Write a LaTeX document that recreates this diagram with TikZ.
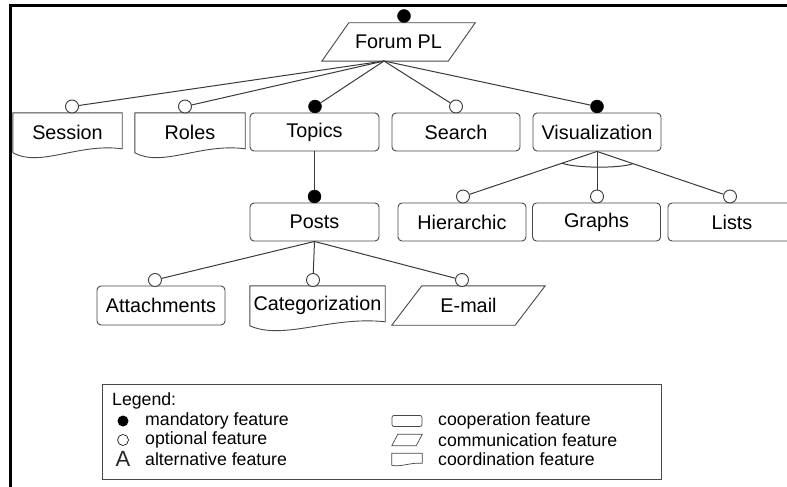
\documentclass[tikz,border=0pt]{standalone}
\usepackage{fontspec}
\setmainfont{Liberation Sans}
\usetikzlibrary{calc}
\definecolor{linecol}{HTML}{3A3A3A}
\definecolor{boxcol}{HTML}{484848}
\newcommand\coordoutline[1]{%
  \draw[boxcol, line width=0.9pt] (#1.north west) -- (#1.north east)
    -- ($(#1.north east)+(0,36)$)
    .. controls ($(#1.north west)!0.6!(#1.north east)+(0,30)$) and ($(#1.north west)!0.25!(#1.north east)+(0,55)$) ..
    ($(#1.north west)+(0,40)$) -- cycle;}
\newcommand\commoutline[2]{%
  \draw[boxcol, line width=0.9pt] (#1.south west) -- ($(#1.north west)+(#2,0)$)
    -- (#1.north east) -- ($(#1.south east)+(-#2,0)$) -- cycle;}
\begin{document}
\begin{tikzpicture}[x=1pt,y=-1pt,
  nodefont/.style={font=\fontsize{19.8}{23}\selectfont},
  coop/.style={draw=boxcol, line width=0.9pt, rounded corners=4pt, minimum width=128pt, minimum height=38pt, inner sep=0pt, nodefont},
  plainbox/.style={minimum height=38pt, inner sep=0pt, nodefont},
  opt/.style={circle, draw=linecol, fill=white, line width=0.9pt, minimum size=13pt, inner sep=0pt},
  mand/.style={circle, fill=black, draw=black, minimum size=13pt, inner sep=0pt},
  conn/.style={draw=linecol, line width=1pt},
  legfont/.style={font=\fontsize{17.7}{20}\selectfont, anchor=west, inner sep=0pt},
]
\useasboundingbox (0,0) rectangle (787,487);
\fill[white] (0,0) rectangle (787,487);
\clip (0,0) rectangle (787,487);

% frame
\draw[line width=3pt] (10.5,487) -- (10.5,6) -- (787,6);

% root
\node[plainbox, minimum width=153pt] (forum) at (398.5,42) {Forum PL};
\commoutline{forum}{27}
\node[mand] (d0) at (404,16) {};
\coordinate (froot) at (384,61);

% level 1
\node[plainbox, minimum width=109pt] (session) at (67.5,132) {Session};
\coordoutline{session}
\node[plainbox, minimum width=110pt] (roles) at (190,132) {Roles};
\coordoutline{roles}
\node[coop, minimum width=129pt] (topics) at (314.5,132) {Topics};
\node[coop] (search) at (456,132) {Search};
\node[coop] (vis) at (597,132) {Visualization};

\node[opt] (cS) at (72,106.5) {};
\node[opt] (cR) at (185,106.5) {};
\node[mand] (cT) at (315,106.5) {};
\node[opt] (cSe) at (456,106.5) {};
\node[mand] (cV) at (597,106.5) {};

\foreach \c in {cS,cR,cT,cSe,cV} \draw[conn] (froot) -- (\c);

% posts
\node[coop, minimum width=129pt] (posts) at (314.5,222) {Posts};
\node[mand] (cP) at (314.5,196.5) {};
\draw[conn] (topics.south) -- (cP);

% posts children
\node[coop, minimum height=39pt] (attach) at (161,305.5) {Attachments};
\node[plainbox, minimum width=135pt] (categ) at (317.5,305) {Categorization};
\coordoutline{categ}
\node[plainbox, minimum width=153pt, minimum height=39pt] (email) at (468.5,305.5) {E-mail};
\commoutline{email}{30}

\node[opt] (cA) at (155,280) {};
\node[opt] (cC) at (313,280) {};
\node[opt] (cE) at (462,280) {};
\foreach \c in {cA,cC,cE} \draw[conn] (posts.south) -- (\c);

% visualization children
\node[coop] (hier) at (462,222) {Hierarchic};
\node[coop] (graphs) at (596.5,222) {Graphs};
\node[coop] (lists) at (732,222) {Lists};

\node[opt] (cH) at (463,196.5) {};
\node[opt] (cG) at (597,196.5) {};
\node[opt] (cL) at (730,196.5) {};
\foreach \c in {cH,cG,cL} \draw[conn] (vis.south) -- (\c);

% alternative arc
\coordinate (arcL) at ($(vis.south)!0.26!(cH)$);
\coordinate (arcR) at ($(vis.south)!0.27!(cL)$);
\draw[conn] (arcL) .. controls ($(arcL)+(12,5)$) and ($(arcR)+(-12,5)$) .. (arcR);

% legend
\node[draw=boxcol, line width=0.8pt, minimum width=559pt, minimum height=95pt, inner sep=0pt, anchor=north west] (legend) at (102,384) {};
\node[legfont] (lg) at (112,401) {Legend:};
\node[circle, fill=black, minimum size=11pt, inner sep=0pt] (lm) at (123,421) {};
\node[legfont] (lmt) at (145,421) {mandatory feature};
\node[circle, draw=black, line width=0.6pt, minimum size=11pt, inner sep=0pt] (lo) at (123,440) {};
\node[legfont] (lot) at (145,440) {optional feature};
\node[inner sep=0pt, text=black!85, font=\fontsize{22}{24}\selectfont] (la) at (123,459) {A};
\node[legfont] (lat) at (145,459) {alternative feature};

\node[draw=boxcol, line width=0.7pt, rounded corners=2pt, minimum width=30pt, minimum height=11pt, inner sep=0pt] (icoop) at (407,421) {};
\node[legfont] (icoopt) at (438,421) {cooperation feature};
\node[minimum width=30pt, minimum height=11pt, inner sep=0pt] (icomm) at (407,440) {};
\draw[boxcol, line width=0.7pt] (icomm.south west) -- ($(icomm.north west)+(6,0)$) -- (icomm.north east) -- ($(icomm.south east)+(-6,0)$) -- cycle;
\node[legfont] (icommt) at (438,440) {communication feature};
\node[minimum width=30pt, minimum height=11pt, inner sep=0pt] (icoord) at (407,459) {};
\draw[boxcol, line width=0.7pt] (icoord.north west) -- (icoord.north east) -- ($(icoord.north east)+(0,10)$)
   .. controls ($(icoord.north west)!0.6!(icoord.north east)+(0,9)$) and ($(icoord.north west)!0.3!(icoord.north east)+(0,14)$) .. ($(icoord.north west)+(0,12)$) -- cycle;
\node[legfont] (icoordt) at (438,459) {coordination feature};
\end{tikzpicture}
\end{document}
